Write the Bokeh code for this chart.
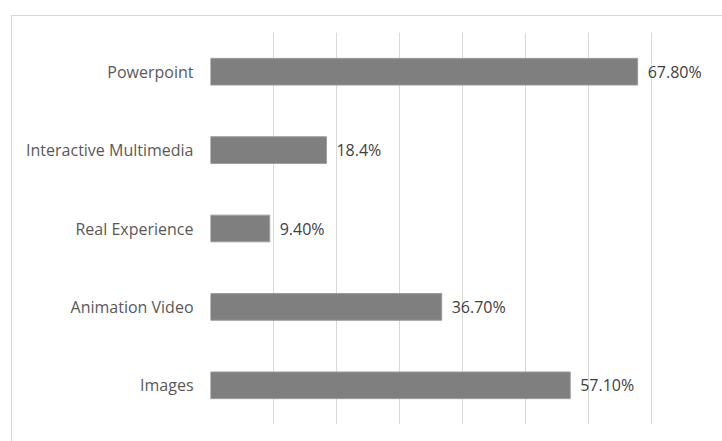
from bokeh.plotting import figure
from bokeh.models import ColumnDataSource, FactorRange, Range1d, LabelSet, FixedTicker
from bokeh.core.properties import value
from bokeh.embed import file_html
from bokeh.resources import INLINE

categories = ["Powerpoint", "Interactive Multimedia", "Real Experience", "Animation Video", "Images"]
values = [67.8, 18.4, 9.4, 36.7, 57.1]
value_labels = ["67.80%", "18.4%", "9.40%", "36.70%", "57.10%"]
grid_ticks = [0, 10, 20, 30, 40, 50, 60, 70, 80]

source = ColumnDataSource(dict(cat=categories, val=values, lab=value_labels))

W, H = 711, 426
p = figure(width=W, height=H, output_backend="svg", toolbar_location=None,
           y_range=FactorRange(factors=list(reversed(categories))),
           x_range=Range1d(0, 80),
           min_border_left=198, min_border_right=9, min_border_top=16, min_border_bottom=18)
p.styles = {"margin-left": "11px", "margin-top": "15px",
            "border-left": "1px solid #d9d9d9", "border-top": "1px solid #d9d9d9"}

p.hbar(y="cat", right="val", left=0, height=0.34, source=source,
       fill_color="#7f7f7f", line_color="#9a9a9a", line_width=1)

labels = LabelSet(x="val", y="cat", text="lab", source=source, x_offset=10,
                  text_baseline="middle", text_align="left",
                  text_font=value("Open Sans"), text_font_size=value("16px"),
                  text_color="#404040")
p.add_layout(labels)

p.xaxis.visible = False
p.xaxis.ticker = FixedTicker(ticks=grid_ticks)
p.xgrid.ticker = FixedTicker(ticks=grid_ticks)
p.xgrid.grid_line_color = "#d9d9d9"
p.xgrid.grid_line_width = 1
p.ygrid.visible = False

p.yaxis.axis_line_color = None
p.yaxis.major_tick_line_color = None
p.yaxis.minor_tick_line_color = None
p.yaxis.major_tick_out = 0
p.yaxis.major_label_standoff = 17
p.yaxis.major_label_text_font = "Open Sans"
p.yaxis.major_label_text_font_size = "16px"
p.yaxis.major_label_text_color = "#595959"

p.outline_line_color = None
p.background_fill_color = "white"
p.border_fill_color = "white"

open("out.html", "w").write(file_html(p, INLINE))
